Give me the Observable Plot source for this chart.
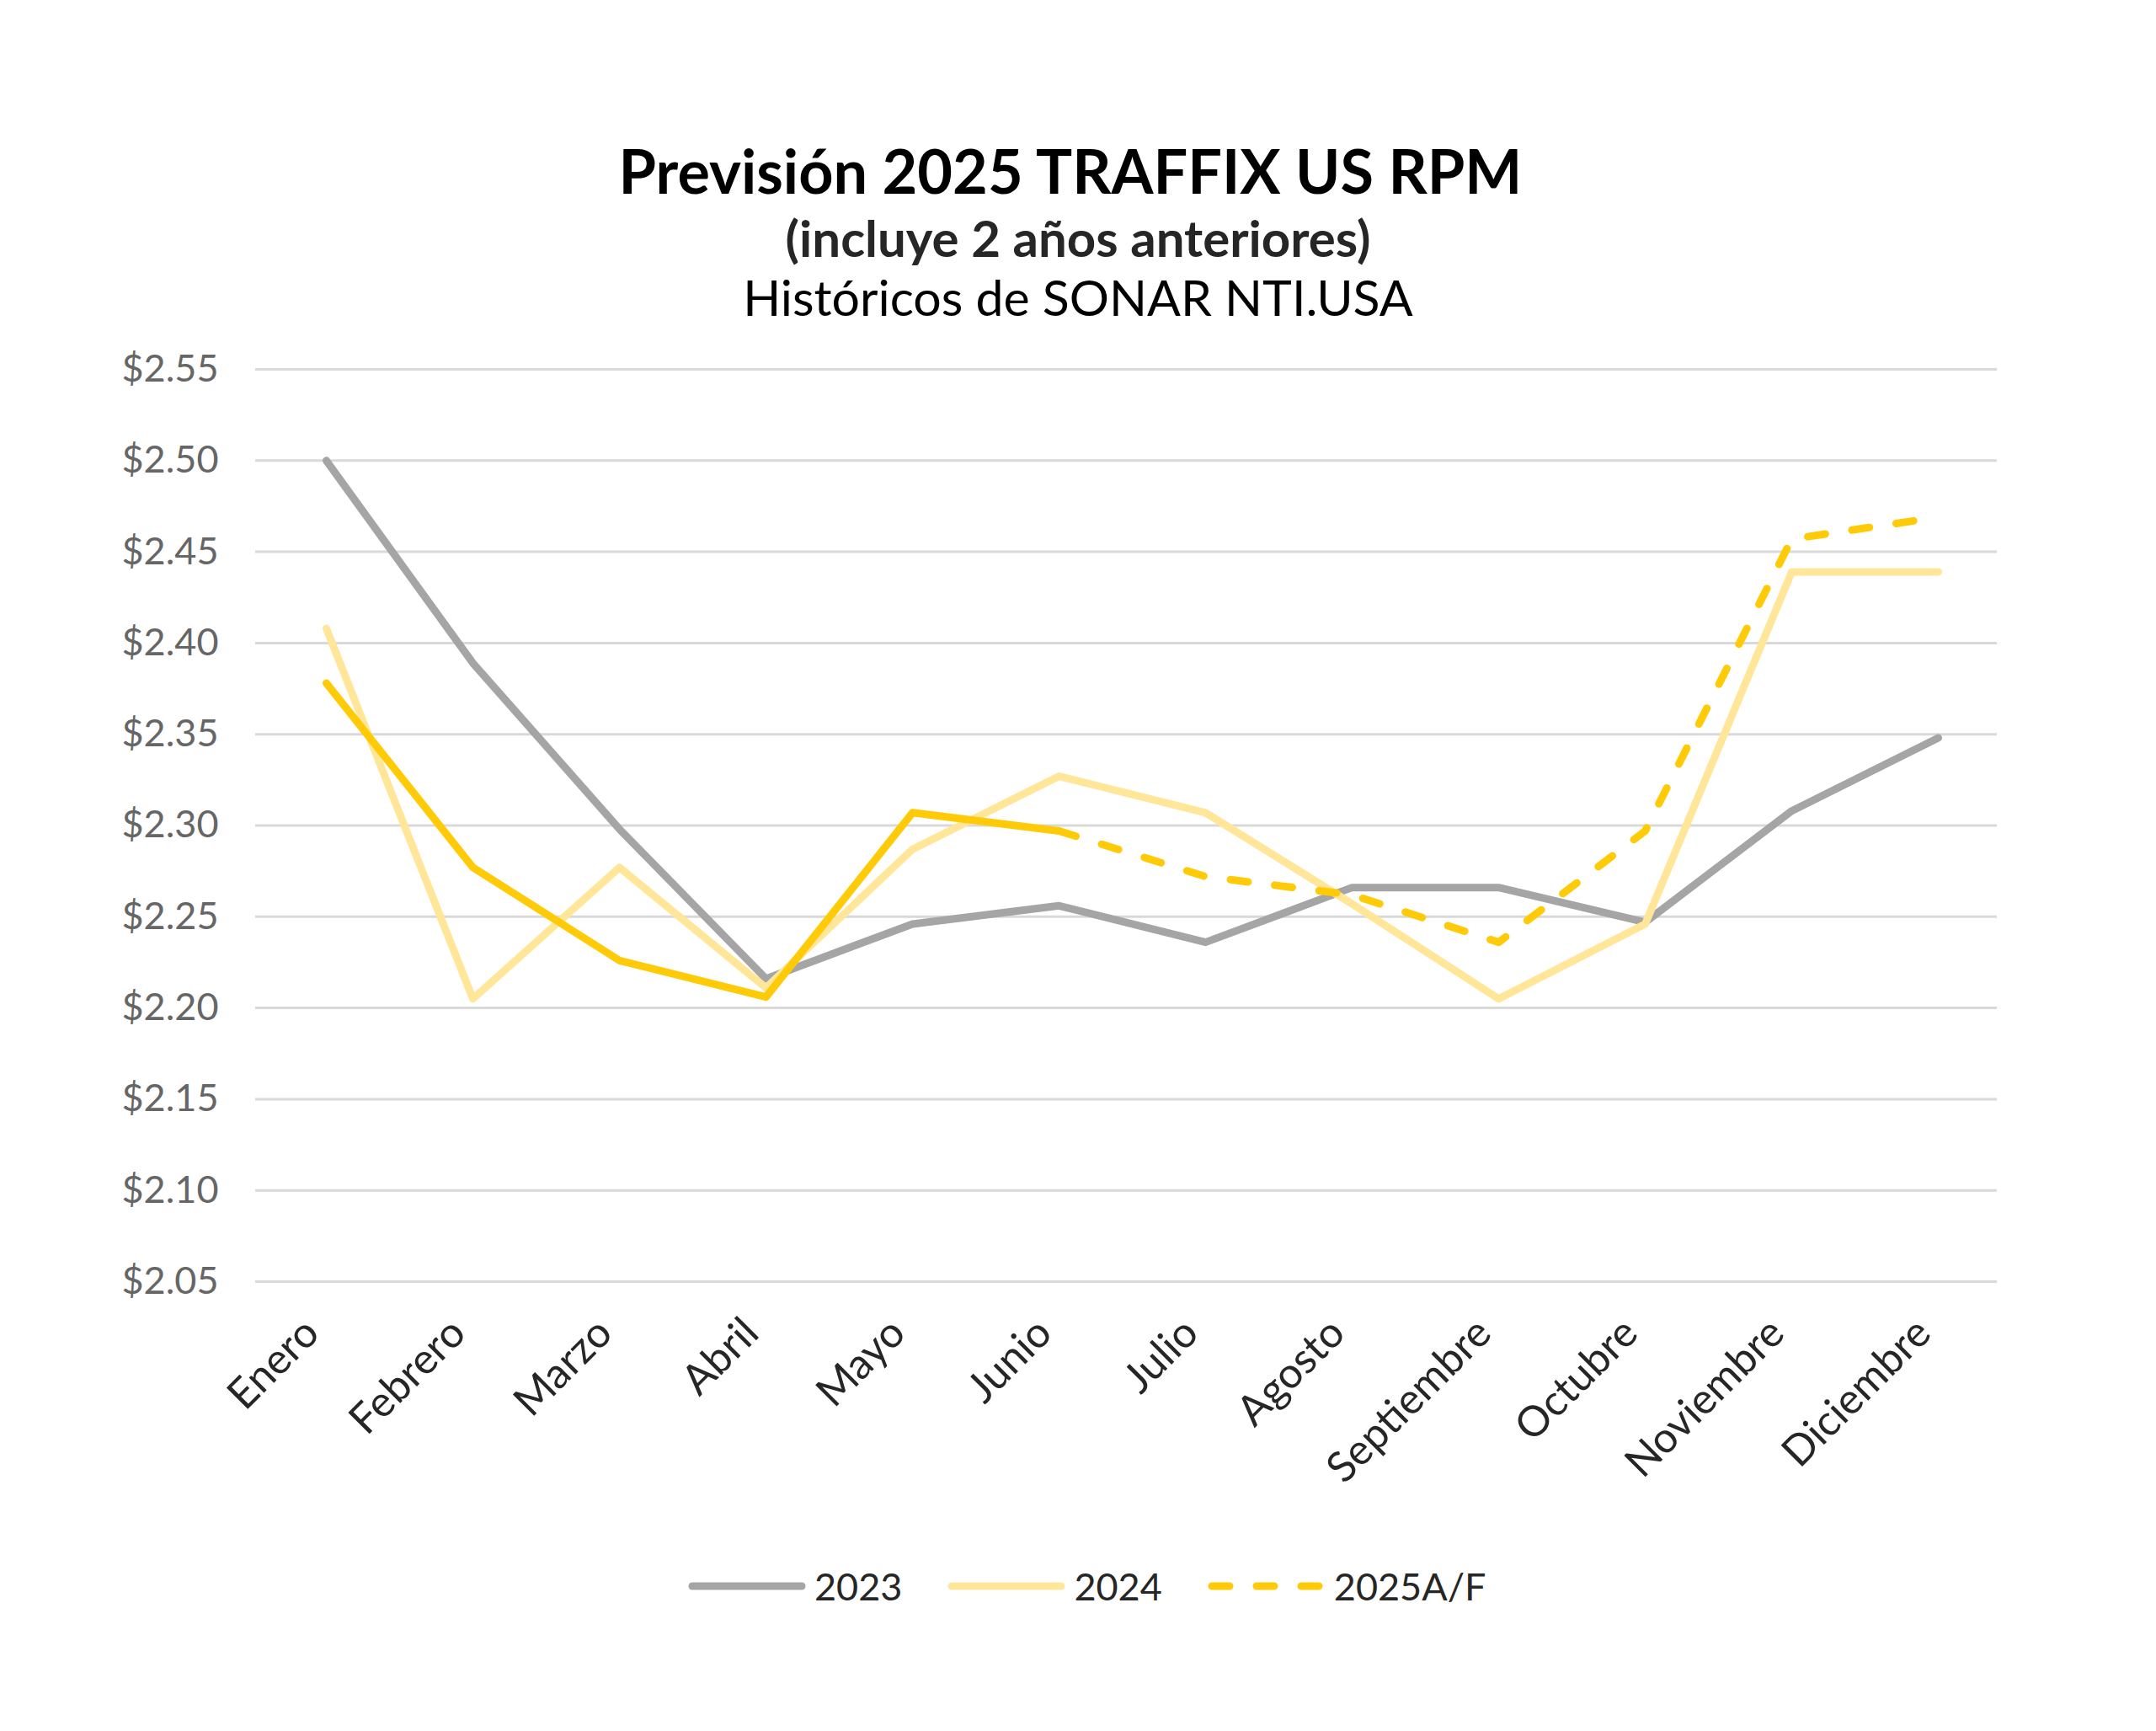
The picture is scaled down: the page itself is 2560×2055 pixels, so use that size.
<!DOCTYPE html>
<html>
<head>
<meta charset="utf-8">
<script src="https://cdn.jsdelivr.net/npm/d3@7"></script>
<script src="https://cdn.jsdelivr.net/npm/@observablehq/plot@0.6"></script>
<style>
  html, body { margin: 0; padding: 0; background: #fff; }
  #page { position: relative; width: 2560px; height: 2055px; font-family: "Lato", sans-serif; overflow: hidden; }
  .t { position: absolute; left: 0; width: 2560px; text-align: center; white-space: nowrap; }
  #title { top: 166px; left: -9px; font-size: 72px; line-height: 72px; font-weight: 700; color: #000; }
  #sub { top: 252px; font-size: 60px; line-height: 60px; font-weight: 700; color: #262626; }
  #src { top: 323px; font-size: 59px; line-height: 59px; font-weight: 400; color: #000; }
  #chart { position: absolute; left: 0; top: 400px; }
  #legend { position: absolute; top: 1853px; left: 817px; height: 60px; display: flex; align-items: center; }
  .item { display: flex; align-items: center; margin-right: 54px; }
  .item span { font-size: 45px; line-height: 60px; color: #262626; margin-left: 10px; }
</style>
</head>
<body>
<div id="page">
  <div class="t" id="title">Previsión 2025 TRAFFIX US RPM</div>
  <div class="t" id="sub">(incluye 2 años anteriores)</div>
  <div class="t" id="src">Históricos de SONAR NTI.USA</div>
  <div id="chart"></div>
  <div id="legend"></div>
</div>
<script>
const months = ["Enero","Febrero","Marzo","Abril","Mayo","Junio","Julio","Agosto","Septiembre","Octubre","Noviembre","Diciembre"];
const v2023 = [2.500, 2.389, 2.298, 2.216, 2.246, 2.256, 2.236, 2.266, 2.266, 2.247, 2.308, 2.348];
const v2024 = [2.408, 2.205, 2.277, 2.211, 2.287, 2.327, 2.307, 2.257, 2.205, 2.246, 2.439, 2.439];
const v2025 = [2.378, 2.277, 2.226, 2.206, 2.307, 2.297, 2.272, 2.262, 2.236, 2.297, 2.457, 2.469];
const actualMonths2025 = 6; // Enero–Junio actual, Junio–Diciembre forecast
const yTicks = [2.05, 2.10, 2.15, 2.20, 2.25, 2.30, 2.35, 2.40, 2.45, 2.50, 2.55];
const seriesNames = ["2023", "2024", "2025A/F"];
const colors = {"2023": "#A5A5A5", "2024": "#FFE699", "2025A/F": "#FFCA08"};

const rows = (vals) => vals.map((v, i) => ({month: months[i], value: v}));
const d2023 = rows(v2023);
const d2024 = rows(v2024);
const d2025 = rows(v2025);
const d2025a = d2025.slice(0, actualMonths2025);
const d2025f = d2025.slice(actualMonths2025 - 1);

const lineOpts = {x: "month", y: "value", strokeWidth: 9, strokeLinecap: "round", strokeLinejoin: "round"};

const chart = Plot.plot({
  width: 2560,
  height: 1420,
  marginTop: 38,
  marginBottom: 299,
  marginLeft: 303,
  marginRight: 189,
  style: {fontFamily: "Lato, sans-serif", background: "white", overflow: "visible"},
  x: {type: "point", domain: months, padding: 0.4086, align: 0.545},
  y: {domain: [2.05, 2.55]},
  marks: [
    Plot.gridY(yTicks, {stroke: "#D9D9D9", strokeOpacity: 1, strokeWidth: 3}),
    Plot.axisY(yTicks, {tickSize: 0, tickPadding: 44, fontSize: 45, fill: "#666666", label: null,
      tickFormat: d => "$" + d.toFixed(2)}),
    Plot.axisX({anchor: "bottom", tickSize: 0, tickPadding: 64, tickRotate: -45, fontSize: 50,
      fill: "#262626", textAnchor: "end", lineAnchor: "bottom", dx: -6, label: null}),
    Plot.line(d2023, {...lineOpts, stroke: colors["2023"]}),
    Plot.line(d2024, {...lineOpts, stroke: colors["2024"]}),
    Plot.line(d2025a, {...lineOpts, stroke: colors["2025A/F"]}),
    Plot.line(d2025f, {...lineOpts, stroke: colors["2025A/F"], strokeDasharray: "21,32"})
  ]
});
document.getElementById("chart").appendChild(chart);

// Legend
const legend = document.getElementById("legend");
seriesNames.forEach((name) => {
  const item = document.createElement("div");
  item.className = "item";
  const dash = name === "2025A/F" ? ' stroke-dasharray="21 32"' : "";
  item.innerHTML = `<svg width="140" height="20"><line x1="5" y1="10" x2="135" y2="10" stroke="${colors[name]}" stroke-width="9" stroke-linecap="round"${dash}/></svg><span>${name}</span>`;
  legend.appendChild(item);
});
</script>
</body>
</html>
